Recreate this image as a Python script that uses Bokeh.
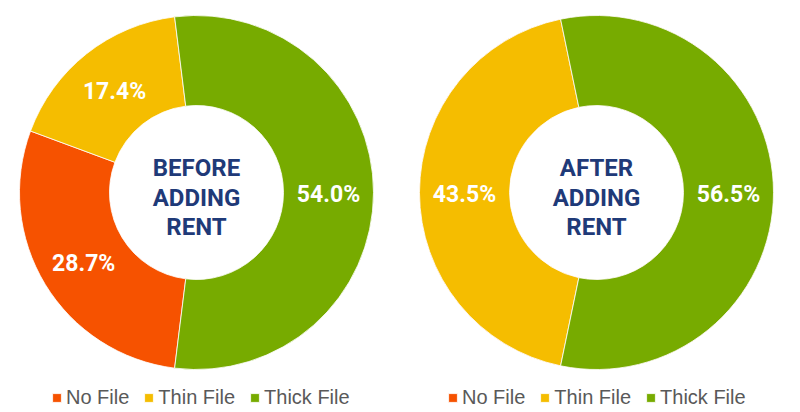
import numpy as np
from bokeh.plotting import figure
from bokeh.models import Range1d, Legend, LegendItem, ColumnDataSource
from bokeh.core.properties import value
from bokeh.embed import file_html
from bokeh.resources import INLINE

# ---- data ----
categories = ["No File", "Thin File", "Thick File"]
before_values = [28.7, 17.4, 54.0]
after_values = [0.0, 43.5, 56.5]
colors = ["#F65200", "#F5BD00", "#77AB00"]
center_titles = ["BEFORE\nADDING\nRENT", "AFTER\nADDING\nRENT"]

W, H = 800, 412
p = figure(width=W, height=H, x_range=Range1d(0, W), y_range=Range1d(0, H),
           output_backend="svg", toolbar_location=None, min_border=0)
p.axis.visible = False
p.grid.visible = False
p.outline_line_color = None
p.background_fill_color = "white"
p.border_fill_color = "white"

R_OUT, R_IN = 177, 87
R_LAB = (R_OUT + R_IN) / 2
LINE_STEP = 29.5


def donut(vals, cx, cy, title, legend_x):
    v = np.array(vals, float)
    frac = v / v.sum()
    order = [2, 1, 0]  # counter-clockwise: Thick, Thin, No File
    starts = np.zeros(3)
    ends = np.zeros(3)
    a = -np.pi * frac[2]  # Thick File centred at 3 o'clock
    for i in order:
        starts[i] = a
        a += 2 * np.pi * frac[i]
        ends[i] = a
    src = ColumnDataSource(dict(cat=categories, val=v, start=starts, end=ends,
                                color=colors, x=[cx] * 3, y=[cy] * 3))
    r = p.annular_wedge(x="x", y="y", inner_radius=R_IN, outer_radius=R_OUT,
                        start_angle="start", end_angle="end", fill_color="color",
                        line_color="white", line_width=0.8, source=src)
    mid = (starts + ends) / 2
    keep = v > 0
    lab = ColumnDataSource(dict(
        x=(cx + R_LAB * np.cos(mid))[keep],
        y=(cy + R_LAB * np.sin(mid))[keep] - 2,
        t=[f"{x:.1f}%" for x in v[keep]]))
    p.text(x="x", y="y", text="t", source=lab, text_align="center",
           text_baseline="middle", text_font=value("Roboto"),
           text_font_style="bold", text_font_size="23px", text_color="white")
    lines = title.split("\n")
    ty = cy - 5
    tsrc = ColumnDataSource(dict(
        x=[cx] * len(lines),
        y=[ty + (1 - i) * LINE_STEP for i in range(len(lines))],
        t=lines))
    p.text(x="x", y="y", text="t", source=tsrc, text_align="center",
           text_baseline="middle", text_font=value("Roboto"),
           text_font_style="bold", text_font_size="24px", text_color="#1F3A78")
    items = [LegendItem(label=c, renderers=[r], index=i) for i, c in enumerate(categories)]
    leg = Legend(items=items, location=(legend_x, 3), orientation="horizontal",
                 glyph_width=11, glyph_height=11, label_standoff=4, spacing=14,
                 padding=0, margin=0, border_line_alpha=0, background_fill_alpha=0,
                 label_text_font_size="20px", label_text_color="#595959",
                 label_text_font="Liberation Sans")
    p.add_layout(leg)


donut(before_values, 196, 220, center_titles[0], 51)
donut(after_values, 596, 220, center_titles[1], 447)

open("out.html", "w").write(file_html(p, INLINE))
